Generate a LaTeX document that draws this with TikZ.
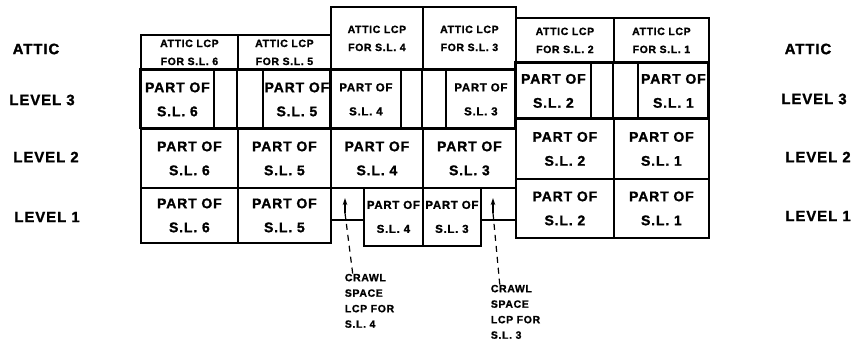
\documentclass[tikz,border=0pt]{standalone}
\usepackage{fontspec}
\setmainfont{Liberation Sans}[LetterSpace=6, BoldFeatures={FakeBold=1.2}]
\usetikzlibrary{arrows.meta}

\begin{document}
\begin{tikzpicture}[x=1pt, y=-1pt, >={Stealth[length=7pt, width=4.5pt]}, line width=1.8pt,
  room/.style={draw, anchor=north west, inner sep=0pt, align=center, font=\bfseries\fontsize{14}{24}\selectfont},
  attic/.style={room, font=\bfseries\fontsize{10.5}{18}\selectfont},
  small/.style={room, font=\bfseries\fontsize{11.5}{24}\selectfont},
  crawl/.style={draw, anchor=north west, inner sep=0pt},
  lvl/.style={font=\bfseries\fontsize{15}{18}\selectfont},
  note/.style={anchor=north west, align=left, inner sep=0pt, font=\bfseries\fontsize{10.5}{15.5}\selectfont}]
\useasboundingbox (0,0) rectangle (855,344);

% level names
\node[lvl] (attL) at (36,49) {ATTIC};
\node[lvl] (lv3L) at (42,100) {LEVEL 3};
\node[lvl] (lv2L) at (46,157) {LEVEL 2};
\node[lvl] (lv1L) at (47,217) {LEVEL 1};
\node[lvl] (attR) at (808,49) {ATTIC};
\node[lvl] (lv3R) at (814,99) {LEVEL 3};
\node[lvl] (lv2R) at (818,157) {LEVEL 2};
\node[lvl] (lv1R) at (818,216) {LEVEL 1};

% S.L. 6 and S.L. 5
\node[attic, minimum width=97pt, minimum height=35pt] (a6) at (140,34) {ATTIC LCP\\FOR S.L. 6};
\node[attic, minimum width=93pt, minimum height=35pt] (a5) at (237,34) {ATTIC LCP\\FOR S.L. 5};
\draw (140,69) rectangle (237,128) (237,69) rectangle (330,128);
\node[room, minimum width=73pt, minimum height=59pt] (p6c) at (140,69) {PART OF\\S.L. 6};
\node[room, minimum width=68pt, minimum height=59pt] (p5c) at (262,69) {PART OF\\S.L. 5};
\node[room, minimum width=97pt, minimum height=59pt] (p6b) at (140,128) {PART OF\\S.L. 6};
\node[room, minimum width=93pt, minimum height=59pt] (p5b) at (237,128) {PART OF\\S.L. 5};
\node[room, minimum width=97pt, minimum height=55pt] (p6a) at (140,187) {PART OF\\S.L. 6};
\node[room, minimum width=93pt, minimum height=55pt] (p5a) at (237,187) {PART OF\\S.L. 5};

% S.L. 4 and S.L. 3
\node[attic, minimum width=92pt, minimum height=63pt] (a4) at (330,6) {ATTIC LCP\\FOR S.L. 4};
\node[attic, minimum width=93pt, minimum height=63pt] (a3) at (422,6) {ATTIC LCP\\FOR S.L. 3};
\draw (330,69) rectangle (422,128) (422,69) rectangle (515,128);
\node[small, minimum width=70pt, minimum height=59pt] (p4c) at (330,69) {PART OF\\S.L. 4};
\node[small, minimum width=70pt, minimum height=59pt] (p3c) at (445,69) {PART OF\\S.L. 3};
\node[room, minimum width=92pt, minimum height=59pt] (p4b) at (330,128) {PART OF\\S.L. 4};
\node[room, minimum width=93pt, minimum height=59pt] (p3b) at (422,128) {PART OF\\S.L. 3};
\node[crawl, minimum width=33pt, minimum height=32pt] (cs4) at (330,187) {};
\node[small, minimum width=59pt, minimum height=58pt] (p4a) at (363,187) {PART OF\\S.L. 4};
\node[small, minimum width=58pt, minimum height=58pt] (p3a) at (422,187) {PART OF\\S.L. 3};
\node[crawl, minimum width=35pt, minimum height=32pt] (cs3) at (480,187) {};

% S.L. 2 and S.L. 1
\node[attic, minimum width=98pt, minimum height=45pt] (a2) at (515,17) {ATTIC LCP\\FOR S.L. 2};
\node[attic, minimum width=95pt, minimum height=45pt] (a1) at (613,17) {ATTIC LCP\\FOR S.L. 1};
\draw (515,62) rectangle (613,118) (613,62) rectangle (708,118);
\node[room, minimum width=75pt, minimum height=56pt] (p2c) at (515,62) {PART OF\\S.L. 2};
\node[room, minimum width=71pt, minimum height=56pt] (p1c) at (637,62) {PART OF\\S.L. 1};
\node[room, minimum width=98pt, minimum height=60pt] (p2b) at (515,118) {PART OF\\S.L. 2};
\node[room, minimum width=95pt, minimum height=60pt] (p1b) at (613,118) {PART OF\\S.L. 1};
\node[room, minimum width=98pt, minimum height=59pt] (p2a) at (515,178) {PART OF\\S.L. 2};
\node[room, minimum width=95pt, minimum height=59pt] (p1a) at (613,178) {PART OF\\S.L. 1};

% crawl space notes
\node[note] (lcp4) at (344,273) {CRAWL\\SPACE\\LCP FOR\\S.L. 4};
\node[note] (lcp3) at (490,284) {CRAWL\\SPACE\\LCP FOR\\S.L. 3};
\coordinate (cs4base) at (345,213);
\coordinate (cs4tip) at (345,198);
\coordinate (cs3base) at (493,213);
\coordinate (cs3tip) at (493,198);
\draw[->, line width=1.2pt] (cs4base) -- (cs4tip);
\draw[->, line width=1.2pt] (cs3base) -- (cs3tip);
\draw[dash pattern=on 6pt off 5pt, line width=1.2pt] (cs4base) -- ([xshift=9pt, yshift=-3pt]lcp4.north west);
\draw[dash pattern=on 6pt off 5pt, line width=1.2pt] (cs3base) -- ([xshift=10pt, yshift=-3pt]lcp3.north west);
\end{tikzpicture}
\end{document}
